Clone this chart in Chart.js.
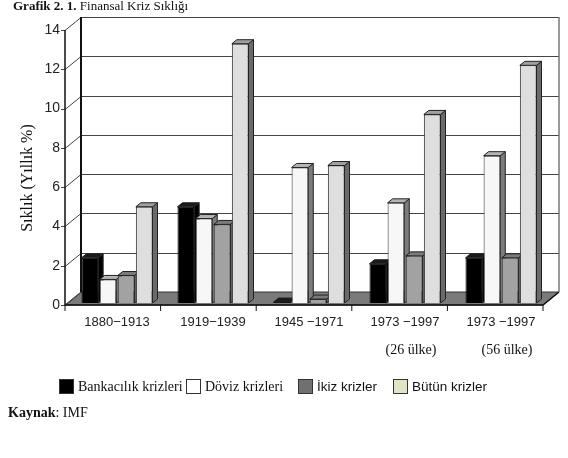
<!DOCTYPE html>
<html lang="tr">
<head>
<meta charset="utf-8">
<script src="https://cdn.jsdelivr.net/npm/chart.js@4.4.1/dist/chart.umd.min.js"></script>
<style>
  html, body { margin: 0; padding: 0; background: #fff; }
  #sahne { position: relative; width: 568px; height: 458px; overflow: hidden; }
  #baslik { position: absolute; left: 13px; top: -2px; font: 13px "Liberation Serif", serif; color: #111; white-space: nowrap; }
  #kaynak { position: absolute; left: 8px; top: 405px; font: 14px "Liberation Serif", serif; color: #111; }
  .lej { position: absolute; top: 379px; height: 16px; line-height: 16px; font-size: 14px; color: #111; white-space: nowrap; }
  .lej i { display: inline-block; width: 13px; height: 13px; border: 1px solid #333; vertical-align: -3px; margin-right: 4px; }
  .serif { font-family: "Liberation Serif", serif; }
  .sans { font-family: "Liberation Sans", Arial, sans-serif; font-size: 13.5px; }
</style>
</head>
<body>
<div id="sahne">
  <canvas id="grafikKriz" width="568" height="458"></canvas>
  <div id="baslik"><b>Grafik 2. 1.</b> Finansal Kriz Sıklığı</div>
  <div id="lejant"></div>
  <div id="kaynak"><b>Kaynak</b>: IMF</div>
</div>
<script>
// Veriler (% yıllık)
const donemler = ['1880−1913', '1919−1939', '1945 −1971', '1973 −1997', '1973 −1997'];
const altEtiketler = ['', '', '', '(26 ülke)', '(56 ülke)'];
const seriAdlari = ['Bankacılık krizleri', 'Döviz krizleri', 'İkiz krizler', 'Bütün krizler'];
const bankacilik = [2.3, 4.9, 0.05, 2.0, 2.3];
const doviz = [1.2, 4.3, 6.9, 5.1, 7.5];
const ikiz = [1.4, 4.0, 0.2, 2.4, 2.3];
const butun = [4.9, 13.2, 7.0, 9.6, 12.1];
const yMax = 14;
const yAdim = 2;

// Renkler: ön yüz, yan yüz, üst yüz, lejant kutusu
const yuzler = [
  { on: '#000000', yan: '#000000', ust: '#1a1a1a', lej: '#000000' },
  { on: '#f7f7f7', yan: '#7c7c7c', ust: '#b4b4b4', lej: '#ffffff' },
  { on: '#a2a2a2', yan: '#626262', ust: '#7a7a7a', lej: '#707070' },
  { on: '#dedede', yan: '#6a6a6a', ust: '#a0a0a0', lej: '#dfe6c6' }
];

// Lejant (yazı tipleri karışık: ilk ikisi serif, son ikisi sans)
const lejKonum = [59, 186, 298, 393];
const lejSinif = ['serif', 'serif', 'sans', 'sans'];
const lejant = document.getElementById('lejant');
seriAdlari.forEach((ad, i) => {
  const d = document.createElement('div');
  d.className = 'lej ' + lejSinif[i];
  d.style.left = lejKonum[i] + 'px';
  d.innerHTML = '<i style="background:' + yuzler[i].lej + '"></i>' + ad;
  lejant.appendChild(d);
});

const derinlik = { x: 5, y: -4 };    // çubuk derinliği
const on = { x: -4, y: 2 };          // ön eksen düzlemi kayması
const arka = { x: 12, y: -11 };      // arka duvar kayması

const uc = {
  id: 'ucBoyut',
  beforeDatasetsDraw(chart) {
    const { ctx, chartArea: a, scales: { x, y } } = chart;
    const onSol = a.left + on.x, onSag = a.right - 6;
    const arkaSol = a.left + arka.x, arkaSag = a.right + 10;
    const y0 = y.getPixelForValue(0);
    ctx.save();
    // taban
    ctx.fillStyle = '#7a7a7a';
    ctx.strokeStyle = '#333';
    ctx.lineWidth = 1;
    ctx.beginPath();
    ctx.moveTo(onSol, y0 + on.y);
    ctx.lineTo(onSag, y0 + on.y);
    ctx.lineTo(arkaSag, y0 + arka.y);
    ctx.lineTo(arkaSol, y0 + arka.y);
    ctx.closePath();
    ctx.fill();
    ctx.stroke();
    // ızgara + eksen bağlantıları
    for (let v = 0; v <= yMax; v += yAdim) {
      const yp = y.getPixelForValue(v);
      ctx.strokeStyle = '#444';
      ctx.lineWidth = 1;
      ctx.beginPath();
      ctx.moveTo(onSol - 4, Math.round(yp + on.y) + 0.5);
      ctx.lineTo(onSol, Math.round(yp + on.y) + 0.5);
      ctx.lineTo(arkaSol, Math.round(yp + arka.y) + 0.5);
      if (v > 0) ctx.lineTo(arkaSag, Math.round(yp + arka.y) + 0.5);
      ctx.stroke();
    }
    // duvar kenarları
    const yTop = y.getPixelForValue(yMax);
    ctx.strokeStyle = '#111';
    ctx.lineWidth = 2;
    ctx.beginPath();
    ctx.moveTo(arkaSol, yTop + arka.y);
    ctx.lineTo(arkaSol, y0 + arka.y);
    ctx.stroke();
    ctx.strokeStyle = '#777';
    ctx.lineWidth = 1.5;
    ctx.beginPath();
    ctx.moveTo(arkaSag, yTop + arka.y);
    ctx.lineTo(arkaSag, y0 + arka.y);
    ctx.stroke();
    // ön eksen
    ctx.strokeStyle = '#111';
    ctx.lineWidth = 1.5;
    ctx.beginPath();
    ctx.moveTo(onSol, yTop + on.y);
    ctx.lineTo(onSol, y0 + on.y);
    ctx.lineTo(onSag, y0 + on.y);
    ctx.lineTo(arkaSag, y0 + arka.y);
    ctx.stroke();
    // kategori çentikleri
    const n = donemler.length;
    ctx.lineWidth = 1;
    for (let i = 0; i <= n; i++) {
      const xp = onSol + i * (onSag - onSol) / n;
      ctx.beginPath();
      ctx.moveTo(xp, y0 + on.y);
      ctx.lineTo(xp, y0 + on.y + 6);
      ctx.stroke();
    }

    // çubukların yan ve üst yüzleri (ön yüzler sonra Chart.js tarafından üstüne çizilir)
    ctx.strokeStyle = '#222';
    ctx.lineWidth = 1;
    chart.getSortedVisibleDatasetMetas().forEach(meta => {
      const renk = yuzler[meta.index];
      meta.data.forEach(el => {
        const { x: bx, y: by, base, width } = el.getProps(['x', 'y', 'base', 'width'], true);
        const sol = bx - width / 2, sag = bx + width / 2;
        ctx.fillStyle = renk.yan;
        ctx.beginPath();
        ctx.moveTo(sag, by);
        ctx.lineTo(sag + derinlik.x, by + derinlik.y);
        ctx.lineTo(sag + derinlik.x, base + derinlik.y);
        ctx.lineTo(sag, base);
        ctx.closePath();
        ctx.fill();
        ctx.stroke();
        ctx.fillStyle = renk.ust;
        ctx.beginPath();
        ctx.moveTo(sol, by);
        ctx.lineTo(sol + derinlik.x, by + derinlik.y);
        ctx.lineTo(sag + derinlik.x, by + derinlik.y);
        ctx.lineTo(sag, by);
        ctx.closePath();
        ctx.fill();
        ctx.stroke();
      });
    });
    ctx.restore();
  },
  afterDraw(chart) {
    const { ctx, scales: { x } } = chart;
    ctx.save();
    // y ekseni başlığı
    ctx.translate(28, 178);
    ctx.rotate(-Math.PI / 2);
    ctx.font = '16px "Liberation Serif", serif';
    ctx.fillStyle = '#111';
    ctx.textAlign = 'center';
    ctx.textBaseline = 'middle';
    ctx.fillText('Sıklık (Yıllık %)', 0, 0);
    ctx.restore();
    // ülke sayısı alt etiketleri
    ctx.save();
    ctx.font = '14px "Liberation Serif", serif';
    ctx.fillStyle = '#111';
    ctx.textAlign = 'center';
    ctx.textBaseline = 'middle';
    altEtiketler.forEach((t, i) => {
      if (t) ctx.fillText(t, x.getPixelForValue(i) + 6, 350);
    });
    ctx.restore();
  }
};

const veriSetleri = [bankacilik, doviz, ikiz, butun].map((d, i) => ({
  label: seriAdlari[i],
  data: d,
  backgroundColor: yuzler[i].on,
  borderColor: i === 0 ? '#000' : '#2a2a2a',
  borderWidth: 1,
  borderSkipped: 'bottom',
  barPercentage: 0.92,
  categoryPercentage: 0.755
}));

new Chart(document.getElementById('grafikKriz'), {
  type: 'bar',
  data: { labels: donemler, datasets: veriSetleri },
  options: {
    responsive: false,
    animation: false,
    devicePixelRatio: 1,
    layout: { padding: { top: 28, left: 0, right: 19, bottom: 0 } },
    plugins: { legend: { display: false }, tooltip: { enabled: false } },
    scales: {
      x: {
        grid: { display: false, drawTicks: false },
        border: { display: false },
        ticks: { color: '#222', padding: 12, maxRotation: 0, font: { family: '"Liberation Sans", Arial, sans-serif', size: 13 } },
        afterFit(s) { s.height = 155; }
      },
      y: {
        min: 0,
        max: yMax,
        grid: { display: false, drawTicks: false },
        border: { display: false },
        ticks: { stepSize: yAdim, color: '#222', padding: 9, labelOffset: 2, font: { family: '"Liberation Sans", Arial, sans-serif', size: 14 } },
        afterFit(s) { s.width = 69; }
      }
    }
  },
  plugins: [uc]
});
</script>
</body>
</html>
